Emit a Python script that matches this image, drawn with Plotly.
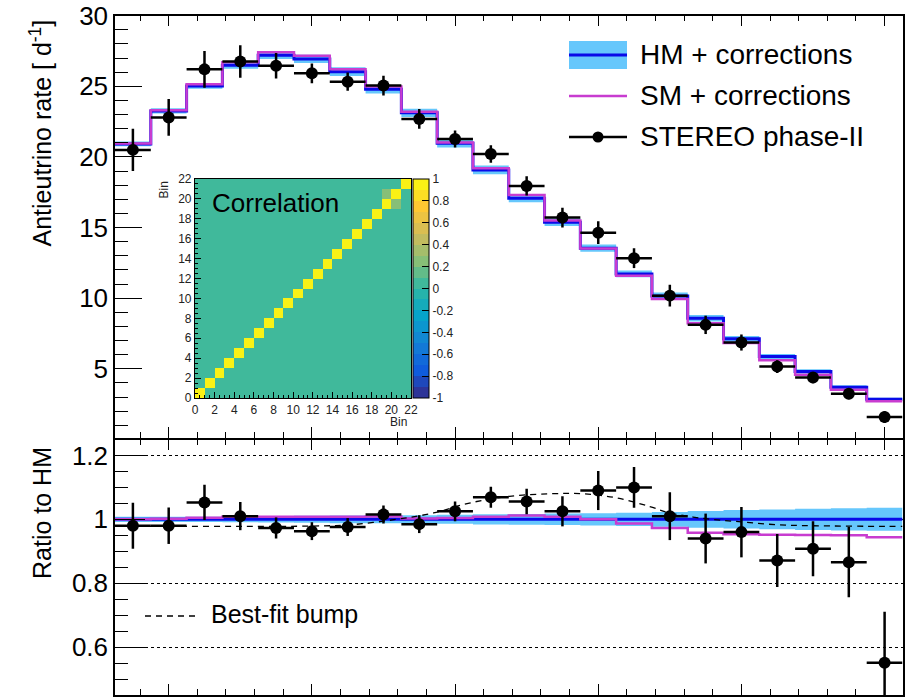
import plotly.graph_objects as go
import numpy as np

W, H = 908, 697

# ---------------- data ----------------
bin_edges = [1.625, 1.875, 2.125, 2.375, 2.625, 2.875, 3.125, 3.375, 3.625, 3.875, 4.125,
             4.375, 4.625, 4.875, 5.125, 5.375, 5.625, 5.875, 6.125, 6.375, 6.625, 6.875, 7.125]
bin_centers = [1.75, 2.0, 2.25, 2.5, 2.75, 3.0, 3.25, 3.5, 3.75, 4.0, 4.25,
               4.5, 4.75, 5.0, 5.25, 5.5, 5.75, 6.0, 6.25, 6.5, 6.75, 7.0]
bin_half_width = [0.125] * 22

data_rate = [20.5, 22.8, 26.2, 26.75, 26.46, 25.92, 25.33, 25.05, 22.69, 21.27, 20.21,
             17.95, 15.71, 14.64, 12.83, 10.18, 8.11, 6.86, 5.16, 4.38, 3.23, 1.58]
data_rate_err = [1.5, 1.3, 1.3, 1.15, 0.9, 0.7, 0.65, 0.7, 0.7, 0.6, 0.62,
                 0.68, 0.7, 0.8, 0.7, 0.77, 0.65, 0.57, 0.45, 0.4, 0.38, 0.42]

hm_rate = [20.92, 23.26, 25.03, 26.49, 27.2, 26.94, 26.04, 24.79, 23.12, 20.97, 19.08,
           17.08, 15.38, 13.54, 11.72, 10.16, 8.58, 7.12, 5.87, 4.81, 3.70, 2.85]
hm_rel_unc = [0.008, 0.008, 0.008, 0.009, 0.010, 0.011, 0.012, 0.012, 0.013, 0.014, 0.016,
              0.017, 0.018, 0.019, 0.021, 0.023, 0.026, 0.029, 0.031, 0.033, 0.035, 0.036]
sm_rate = [20.95, 23.3, 25.15, 26.7, 27.41, 27.17, 26.2, 24.98, 23.2, 21.03, 19.2,
           17.31, 15.5, 13.52, 11.58, 9.95, 8.23, 6.82, 5.6, 4.58, 3.51, 2.7]

ratio_data = [0.98, 0.98, 1.053, 1.01, 0.973, 0.963, 0.976, 1.015, 0.985, 1.025, 1.069,
              1.056, 1.025, 1.09, 1.10, 1.01, 0.94, 0.96, 0.871, 0.908, 0.866, 0.551]
ratio_data_err = [0.072, 0.057, 0.055, 0.044, 0.033, 0.028, 0.028, 0.028, 0.028, 0.031, 0.033,
                  0.04, 0.047, 0.061, 0.064, 0.075, 0.078, 0.079, 0.083, 0.086, 0.11, 0.16]
ratio_hm = [1.0] * 22
ratio_sm = [1.000, 1.002, 1.005, 1.008, 1.008, 1.008, 1.008, 1.009, 1.003, 1.004, 1.008,
            1.012, 1.008, 1.0, 0.987, 0.973, 0.958, 0.953, 0.952, 0.951, 0.950, 0.944]

bump_energy = [1.625, 2.0, 2.5, 3.0, 3.27, 3.59, 3.85, 4.1, 4.38, 4.66, 4.89, 5.13, 5.36,
               5.5, 5.75, 6.0, 6.25, 6.5, 7.0, 7.125]
bump_ratio = [0.978, 0.978, 0.978, 0.979, 0.983, 1.0, 1.02, 1.051, 1.072, 1.08, 1.08, 1.067,
              1.04, 1.02, 1.002, 0.992, 0.983, 0.98, 0.978, 0.978]

corr_nbins = 22
corr_diag = 1.0
corr_background = 0.02
corr_pairs = [(19, 20, 0.25)]
corr_ticks = [-1, -0.8, -0.6, -0.4, -0.2, 0, 0.2, 0.4, 0.6, 0.8, 1]
corr_tick_labels = ["-1", "-0.8", "-0.6", "-0.4", "-0.2", "0", "0.2", "0.4", "0.6", "0.8", "1"]

legend_labels = ["HM + corrections", "SM + corrections", "STEREO phase-II"]
bump_label = "Best-fit bump"

# ---------------- styles ----------------
FONT = "Liberation Sans, Arial, Helvetica, sans-serif"
C_BAND = "#66c7fc"
C_HM = "#0a0ae8"
C_SM = "#c83cd0"
BUMP_DASH = "6px,5px"


def px(x, y):
    return x / W, 1 - y / H


def step(vals):
    return list(vals) + [vals[-1]]


fig = go.Figure()

# ---------------- top panel ----------------
hm_lo = [v * (1 - r) for v, r in zip(hm_rate, hm_rel_unc)]
hm_hi = [v * (1 + r) for v, r in zip(hm_rate, hm_rel_unc)]
fig.add_trace(go.Scatter(x=bin_edges, y=step(hm_lo), mode="lines", line=dict(width=0, shape="hv"),
                         hoverinfo="skip", xaxis="x", yaxis="y"))
fig.add_trace(go.Scatter(x=bin_edges, y=step(hm_hi), mode="lines", line=dict(width=0, shape="hv"),
                         fill="tonexty", fillcolor=C_BAND, hoverinfo="skip", xaxis="x", yaxis="y"))
fig.add_trace(go.Scatter(x=bin_edges, y=step(hm_rate), mode="lines",
                         line=dict(color=C_HM, width=3, shape="hv"), xaxis="x", yaxis="y"))
fig.add_trace(go.Scatter(x=bin_edges, y=step(sm_rate), mode="lines",
                         line=dict(color=C_SM, width=2.5, shape="hv"), xaxis="x", yaxis="y"))
fig.add_trace(go.Scatter(x=bin_centers, y=data_rate, mode="markers",
                         marker=dict(color="black", size=12),
                         error_x=dict(type="data", array=bin_half_width, width=0, thickness=2.5, color="black"),
                         error_y=dict(type="data", array=data_rate_err, width=0, thickness=2.5, color="black"),
                         xaxis="x", yaxis="y"))

# ---------------- ratio panel ----------------
r_lo = [1 - r for r in hm_rel_unc]
r_hi = [1 + r for r in hm_rel_unc]
fig.add_trace(go.Scatter(x=bin_edges, y=step(r_lo), mode="lines", line=dict(width=0, shape="hv"),
                         hoverinfo="skip", xaxis="x2", yaxis="y2"))
fig.add_trace(go.Scatter(x=bin_edges, y=step(r_hi), mode="lines", line=dict(width=0, shape="hv"),
                         fill="tonexty", fillcolor=C_BAND, hoverinfo="skip", xaxis="x2", yaxis="y2"))
fig.add_trace(go.Scatter(x=bin_edges, y=step(ratio_hm), mode="lines",
                         line=dict(color=C_HM, width=3, shape="hv"), xaxis="x2", yaxis="y2"))
fig.add_trace(go.Scatter(x=bin_edges, y=step(ratio_sm), mode="lines",
                         line=dict(color=C_SM, width=2.5, shape="hv"), xaxis="x2", yaxis="y2"))
fig.add_trace(go.Scatter(x=bump_energy, y=bump_ratio, mode="lines",
                         line=dict(color="black", width=1.3, dash=BUMP_DASH, shape="spline", smoothing=1),
                         xaxis="x2", yaxis="y2"))
fig.add_trace(go.Scatter(x=bin_centers, y=ratio_data, mode="markers",
                         marker=dict(color="black", size=12),
                         error_x=dict(type="data", array=bin_half_width, width=0, thickness=2.5, color="black"),
                         error_y=dict(type="data", array=ratio_data_err, width=0, thickness=2.5, color="black"),
                         xaxis="x2", yaxis="y2"))

# ---------------- correlation inset ----------------
z = np.full((corr_nbins, corr_nbins), corr_background)
np.fill_diagonal(z, corr_diag)
for i, j, v in corr_pairs:
    z[j, i] = v
    z[i, j] = v
cells = [k + 0.5 for k in range(corr_nbins)]

bird_pos = [0.0, 0.125, 0.25, 0.375, 0.5, 0.625, 0.75, 0.875, 1.0]
bird_r = [0.2082, 0.0592, 0.0780, 0.0232, 0.1802, 0.5301, 0.8186, 0.9956, 0.9764]
bird_g = [0.1664, 0.3599, 0.5041, 0.6419, 0.7178, 0.7492, 0.7328, 0.7862, 0.9832]
bird_b = [0.5293, 0.8684, 0.8385, 0.7914, 0.6425, 0.4662, 0.3499, 0.1968, 0.0539]
nband = 20
cscale = []
for k in range(nband):
    t = (k + 0.5) / nband
    r = np.interp(t, bird_pos, bird_r)
    g = np.interp(t, bird_pos, bird_g)
    b = np.interp(t, bird_pos, bird_b)
    col = "rgb(%d,%d,%d)" % (round(r * 255), round(g * 255), round(b * 255))
    cscale.append([k / nband, col])
    cscale.append([(k + 1) / nband, col])

cb_x0, cb_y0 = px(413, 179)
_, cb_y1 = px(413, 398)
fig.add_trace(go.Heatmap(x=cells, y=cells, z=z, zmin=-1, zmax=1, colorscale=cscale,
                         xaxis="x3", yaxis="y3",
                         colorbar=dict(x=cb_x0, xanchor="left", y=(cb_y0 + cb_y1) / 2, yanchor="middle",
                                       len=cb_y0 - cb_y1, lenmode="fraction", thickness=16,
                                       thicknessmode="pixels", outlinewidth=1, outlinecolor="black",
                                       tickvals=corr_ticks, ticktext=corr_tick_labels, ticks="inside",
                                       ticklen=7, tickcolor="black",
                                       tickfont=dict(family=FONT, size=12, color="#222"),
                                       xpad=0, ypad=0)))

# ---------------- layout ----------------
xd = [115 / W, 902.5 / W]
top_dom = [1 - 438.0 / H, 1 - 15.7 / H]
bot_dom = [1 - 695 / H, 1 - 439.5 / H]
in_x = [195 / W, 411 / W]
in_y = [1 - 398 / H, 1 - 179 / H]

common_x = dict(range=[1.625, 7.125], showticklabels=False, ticks="inside", tick0=0, dtick=1,
                ticklen=11, tickwidth=1.2, tickcolor="black",
                minor=dict(ticks="inside", dtick=0.2, tick0=0, ticklen=6, tickcolor="black", tickwidth=1.2),
                showline=True, linecolor="black", linewidth=1.5, mirror="allticks",
                showgrid=False, zeroline=False)

layout = dict(
    width=W, height=H, autosize=False, showlegend=False,
    margin=dict(l=0, r=0, t=0, b=0, pad=0, autoexpand=False),
    paper_bgcolor="white", plot_bgcolor="white",
    font=dict(family=FONT, color="black"),
    xaxis=dict(domain=xd, anchor="y", **common_x),
    xaxis2=dict(domain=xd, anchor="y2", **common_x),
    yaxis=dict(domain=top_dom, anchor="x", range=[0.1, 30], tick0=0, dtick=5, ticks="inside",
               ticklen=27, tickwidth=1.2, tickcolor="black",
               minor=dict(ticks="inside", dtick=1, tick0=0, ticklen=13, tickcolor="black", tickwidth=1.2),
               tickfont=dict(size=26, family=FONT), showline=True, linecolor="black", linewidth=1.5,
               mirror=True, showgrid=False, zeroline=False),
    yaxis2=dict(domain=bot_dom, anchor="x2", range=[0.45, 1.25], tick0=0, dtick=0.2, ticks="inside",
                ticklen=30, tickwidth=1.2, tickcolor="black",
                minor=dict(ticks="inside", dtick=0.05, tick0=0, ticklen=13, tickcolor="black", tickwidth=1.2),
                tickfont=dict(size=26, family=FONT), showline=True, linecolor="black", linewidth=1.5,
                mirror=True, showgrid=True, griddash="dot", gridcolor="black", gridwidth=1.2,
                zeroline=False),
    xaxis3=dict(domain=in_x, anchor="y3", range=[0, 22], tick0=0, dtick=2, ticks="inside", ticklen=6,
                tickcolor="black", minor=dict(ticks="inside", dtick=0.5, ticklen=3, tickcolor="black"),
                tickfont=dict(size=12, family=FONT, color="#222"), showline=True, linecolor="black",
                linewidth=1.2, mirror=True, showgrid=False, zeroline=False),
    yaxis3=dict(domain=in_y, anchor="x3", range=[0, 22], tick0=0, dtick=2, ticks="inside", ticklen=6,
                tickcolor="black", minor=dict(ticks="inside", dtick=0.5, ticklen=3, tickcolor="black"),
                tickfont=dict(size=12, family=FONT, color="#222"), showline=True, linecolor="black",
                linewidth=1.2, mirror=True, showgrid=False, zeroline=False),
)
fig.update_layout(**layout)

ann = []
shapes = []


def text(x, y, s, size, xanchor="left", yanchor="middle", angle=0, color="black"):
    xx, yy = px(x, y)
    ann.append(dict(x=xx, y=yy, xref="paper", yref="paper", text=s, showarrow=False,
                    xanchor=xanchor, yanchor=yanchor, textangle=angle,
                    font=dict(family=FONT, size=size, color=color)))


# axis titles
text(40, 18, "Antieutrino rate [ d<sup>-1</sup>]", 25, xanchor="center", yanchor="top", angle=-90)
text(42, 445, "Ratio to HM", 25, xanchor="center", yanchor="top", angle=-90)

# inset texts
text(210, 203, "Correlation", 26)
text(163, 180, "Bin", 12, xanchor="center", yanchor="top", angle=-90, color="#222")
text(409, 422, "Bin", 12, xanchor="right", color="#222")

# legend
x0, x1 = 569, 627
bx0, by0 = px(x0, 41)
bx1, by1 = px(x1, 69)
shapes.append(dict(type="rect", xref="paper", yref="paper", x0=bx0, x1=bx1, y0=by1, y1=by0,
                   fillcolor=C_BAND, line=dict(width=0)))
for yy, col, w in [(55, C_HM, 3), (96, C_SM, 2.5), (137, "black", 2.5)]:
    a, b = px(x0, yy)
    c, _ = px(x1, yy)
    shapes.append(dict(type="line", xref="paper", yref="paper", x0=a, x1=c, y0=b, y1=b,
                       line=dict(color=col, width=w)))
mx, my = px(598, 137)
shapes.append(dict(type="circle", xref="paper", yref="paper", x0=mx - 5.5 / W, x1=mx + 5.5 / W,
                   y0=my - 5.5 / H, y1=my + 5.5 / H, fillcolor="black", line=dict(width=0)))
for lbl, yy in zip(legend_labels, [55, 96, 137]):
    text(638, yy, lbl, 28)

# bump legend
a, b = px(145, 616)
c, _ = px(198, 616)
shapes.append(dict(type="line", xref="paper", yref="paper", x0=a, x1=c, y0=b, y1=b,
                   line=dict(color="black", width=1.3, dash=BUMP_DASH)))
text(209, 614, bump_label, 25)

fig.update_layout(annotations=ann, shapes=shapes)
fig.write_html("out.html")
